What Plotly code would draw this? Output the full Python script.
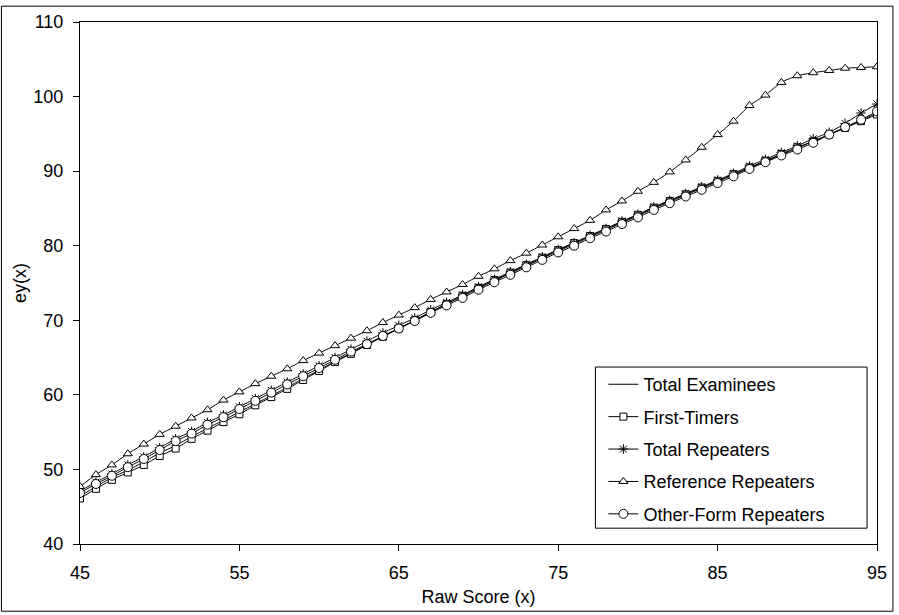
import plotly.graph_objects as go

raw_score = list(range(45, 96))

total_examinees = [46.4, 47.7, 48.9, 49.9, 51.0, 52.2, 53.2, 54.4, 55.5, 56.6,
                   57.7, 58.8, 59.9, 61.0, 62.2, 63.3, 64.5, 65.6, 66.7, 67.8,
                   68.9, 70.0, 71.1, 72.2, 73.2, 74.3, 75.3, 76.3, 77.3, 78.3,
                   79.3, 80.2, 81.2, 82.1, 83.1, 84.0, 85.0, 85.9, 86.8, 87.7,
                   88.6, 89.5, 90.4, 91.3, 92.2, 93.1, 94.0, 94.9, 95.8, 96.8,
                   97.8]
first_timers = [46.1, 47.4, 48.6, 49.6, 50.6, 51.8, 52.8, 54.1, 55.2, 56.35,
                57.4, 58.6, 59.7, 60.8, 62.0, 63.2, 64.4, 65.5, 66.7, 67.8,
                68.9, 70.0, 71.1, 72.2, 73.3, 74.35, 75.4, 76.4, 77.4, 78.4,
                79.4, 80.35, 81.3, 82.25, 83.2, 84.15, 85.1, 86.0, 86.9, 87.8,
                88.7, 89.6, 90.5, 91.4, 92.3, 93.2, 94.0, 94.9, 95.8, 96.7,
                97.6]
total_repeaters = [47.1, 48.3, 49.4, 50.6, 51.7, 52.9, 54.1, 55.1, 56.3, 57.3,
                   58.4, 59.5, 60.6, 61.7, 62.8, 63.9, 65.0, 66.1, 67.2, 68.3,
                   69.3, 70.3, 71.4, 72.4, 73.4, 74.5, 75.5, 76.5, 77.5, 78.5,
                   79.5, 80.4, 81.4, 82.3, 83.3, 84.2, 85.2, 86.1, 87.0, 87.9,
                   88.8, 89.7, 90.7, 91.6, 92.5, 93.4, 94.35, 95.2, 96.4, 97.8,
                   99.0]
reference_repeaters = [47.7, 49.3, 50.6, 52.1, 53.4, 54.7, 55.8, 56.9, 58.0, 59.3,
                       60.4, 61.5, 62.5, 63.5, 64.6, 65.6, 66.6, 67.6, 68.6, 69.7,
                       70.7, 71.7, 72.8, 73.8, 74.8, 75.9, 76.9, 78.0, 79.0, 80.1,
                       81.2, 82.3, 83.4, 84.8, 86.0, 87.3, 88.5, 89.9, 91.5, 93.2,
                       94.9, 96.7, 98.8, 100.2, 101.9, 102.8, 103.2, 103.5, 103.8, 103.9,
                       104.0]
other_form_repeaters = [46.85, 48.05, 49.15, 50.3, 51.4, 52.6, 53.8, 54.8, 56.0, 57.0,
                        58.1, 59.2, 60.3, 61.4, 62.5, 63.6, 64.7, 65.8, 66.8, 67.9,
                        68.9, 69.9, 71.0, 72.0, 73.0, 74.1, 75.1, 76.1, 77.1, 78.1,
                        79.1, 80.0, 81.0, 81.9, 82.9, 83.8, 84.8, 85.7, 86.6, 87.5,
                        88.4, 89.3, 90.3, 91.2, 92.1, 92.9, 93.8, 94.9, 95.9, 96.9,
                        98.0]

x_ticks = [45, 55, 65, 75, 85, 95]
y_ticks = [40, 50, 60, 70, 80, 90, 100, 110]

FONT = "Arial, Liberation Sans, sans-serif"
FS = 18

series = [
    ("Total Examinees", total_examinees, None),
    ("First-Timers", first_timers, dict(symbol="square", size=7, color="white",
                                         line=dict(color="black", width=1))),
    ("Total Repeaters", total_repeaters, dict(symbol="asterisk-open", size=8, color="black",
                                               line=dict(color="black", width=1))),
    ("Reference Repeaters", reference_repeaters, dict(symbol="triangle-up", size=8, color="white",
                                                       line=dict(color="black", width=1))),
    ("Other-Form Repeaters", other_form_repeaters, dict(symbol="circle", size=9, color="white",
                                                         line=dict(color="black", width=1))),
]

fig = go.Figure()
for i, (name, vals, marker) in enumerate(series):
    fig.add_trace(go.Scatter(
        x=raw_score, y=vals, name=name,
        mode="lines" if marker is None else "lines+markers",
        line=dict(color="black", width=1, shape="spline", smoothing=0.6),
        marker=marker if marker is not None else None,
        legendgroup=f"g{i}",
    ))

axis_common = dict(
    showline=True, linecolor="black", linewidth=1, mirror=True,
    ticks="outside", ticklen=6, tickcolor="black", tickwidth=1,
    showgrid=False, zeroline=False,
    tickfont=dict(family=FONT, size=FS, color="black"),
)

fig.update_layout(
    width=899, height=615,
    margin=dict(l=80, r=18, t=17, b=70),
    paper_bgcolor="white", plot_bgcolor="white",
    font=dict(family=FONT, size=FS, color="black"),
    showlegend=True,
    legend=dict(
        x=0.6567, y=0.3409, xanchor="left", yanchor="top",
        bgcolor="rgba(0,0,0,0)", borderwidth=0,
        font=dict(family=FONT, size=FS, color="black"),
        tracegroupgap=6, traceorder="grouped",
    ),
    xaxis=dict(range=[45, 95], tickvals=x_ticks, ticklabelstandoff=6,
               title=dict(text="Raw Score (x)", font=dict(family=FONT, size=FS), standoff=8),
               **axis_common),
    yaxis=dict(range=[40, 110], tickvals=y_ticks, ticklabelstandoff=6,
               title=dict(text="ey(x)", font=dict(family=FONT, size=FS), standoff=2),
               **axis_common),
    shapes=[
        dict(type="rect", xref="paper", yref="paper",
             x0=-0.0986, x1=1.0200, y0=-0.1288, y1=1.0303,
             line=dict(color="black", width=1), fillcolor="rgba(0,0,0,0)",
             layer="below"),
        dict(type="rect", xref="paper", yref="paper",
             x0=0.6467, x1=0.9875, y0=0.0303, y1=0.339,
             line=dict(color="black", width=1), fillcolor="white",
             layer="above"),
    ],
)

fig.write_html("out.html")
